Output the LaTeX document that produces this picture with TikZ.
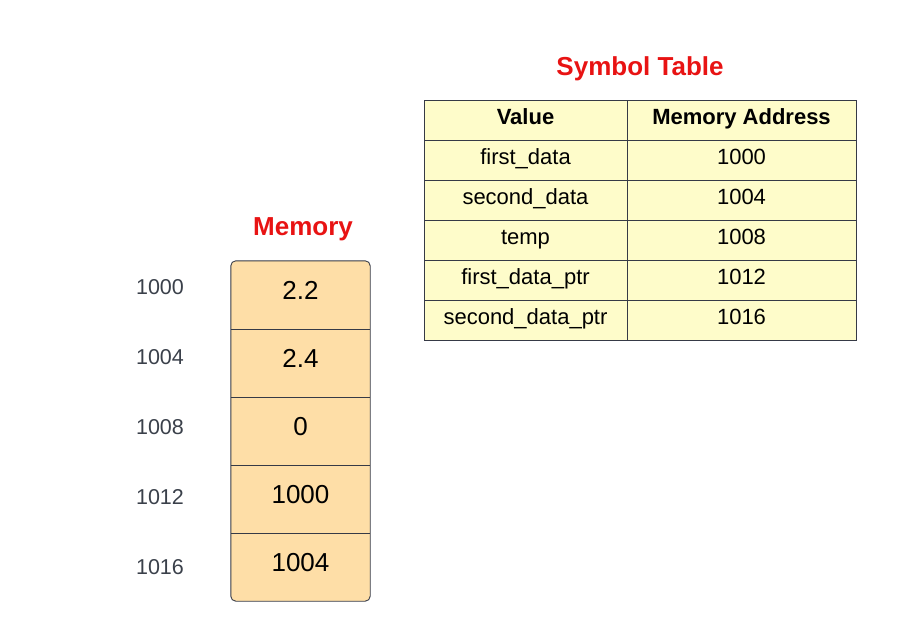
\documentclass[tikz,border=0pt]{standalone}
\usepackage{fontspec}
\setmainfont{Liberation Sans}
\usetikzlibrary{calc}
\definecolor{titlered}{RGB}{232,19,19}
\definecolor{edge}{RGB}{54,58,70}
\definecolor{peach}{RGB}{254,222,167}
\definecolor{paleyellow}{RGB}{254,252,202}
\definecolor{addrgray}{RGB}{58,64,74}
\tikzset{
  title/.style={anchor=base, inner sep=0pt, text=titlered,
    font=\fontsize{26}{30}\selectfont\bfseries},
  memcell/.style={minimum width=139pt, minimum height=68pt, inner sep=0pt},
  memtext/.style={anchor=base, inner sep=0pt, font=\fontsize{26}{30}\selectfont},
  addr/.style={anchor=base, inner sep=0pt, text=addrgray, font=\fontsize{21.5}{26}\selectfont},
  tcell/.style={draw=edge, line width=0.9pt, fill=paleyellow, inner sep=0pt, minimum height=40pt},
  valcol/.style={tcell, minimum width=203pt},
  addrcol/.style={tcell, minimum width=229pt},
  ttext/.style={anchor=base, inner sep=0pt, font=\fontsize{22}{26}\selectfont},
  thead/.style={ttext, font=\fontsize{22}{26}\selectfont\bfseries},
}
\begin{document}
\begin{tikzpicture}[x=1pt, y=-1pt]
\useasboundingbox (0,0) rectangle (897,640);

% ---- Symbol table ----
\node[title] (symtitle) at (640,75.5) {Symbol Table};
\foreach \i/\v/\a in {0/Value/Memory Address,
    1/first\_data/1000, 2/second\_data/1004, 3/temp/1008,
    4/first\_data\_ptr/1012, 5/second\_data\_ptr/1016} {
  \pgfmathsetmacro{\ry}{120+40*\i}
  \node[valcol] (v\i) at (525.5, \ry) {};
  \node[addrcol] (a\i) at (741.5, \ry) {};
  \ifnum\i=0
    \node[thead] (vt\i) at ($(v\i.north)+(0,24.5)$) {\v};
    \node[thead] (at\i) at ($(a\i.north)+(0,24.5)$) {\a};
  \else
    \node[ttext] (vt\i) at ($(v\i.north)+(0,24.5)$) {\v};
    \node[ttext] (at\i) at ($(a\i.north)+(0,24.5)$) {\a};
  \fi
}

% ---- Memory column ----
\node[title] (memtitle) at (303,235) {Memory};
\foreach \i in {1,...,5} {
  \pgfmathsetmacro{\my}{295+68*(\i-1)}
  \node[memcell] (m\i) at (300.5, \my) {};
}
\draw[edge, line width=0.9pt, fill=peach, rounded corners=5pt]
  (m1.north west) rectangle (m5.south east);
\foreach \i/\v in {1/2.2, 2/2.4, 3/0, 4/1000, 5/1004} {
  \node[memtext] (mt\i) at ($(m\i.north)+(0,39)$) {\v};
}
\foreach \i in {1,...,4} {
  \draw[edge, line width=0.9pt] (m\i.south west) -- (m\i.south east);
}

% ---- Addresses beside the memory cells ----
\foreach \i/\a in {1/1000, 2/1004, 3/1008, 4/1012, 5/1016} {
  \pgfmathsetmacro{\ay}{294+70*(\i-1)}
  \node[addr] (ad\i) at (160, \ay) {\a};
}
\end{tikzpicture}
\end{document}
